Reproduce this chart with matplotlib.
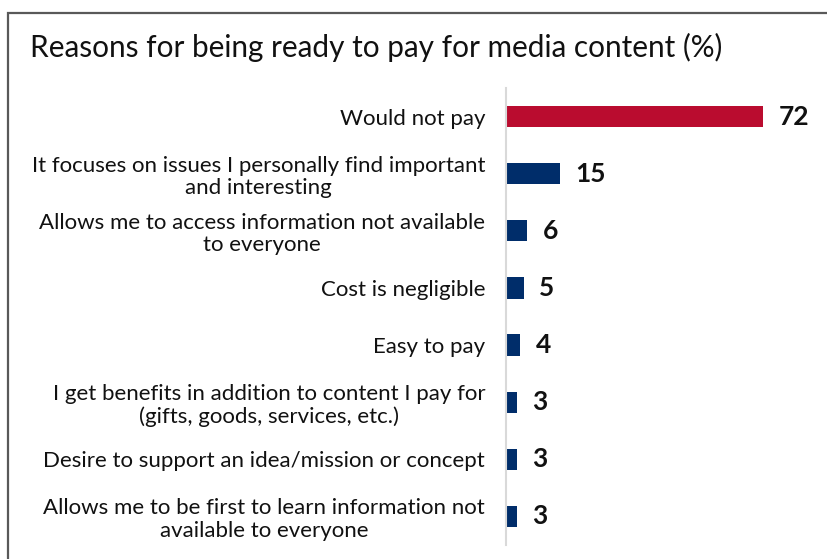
import matplotlib.pyplot as plt
from matplotlib.patches import Rectangle

plt.rcParams['font.family'] = ['Lato', 'DejaVu Sans']

title = 'Reasons for being ready to pay for media content (%)'
categories = [
    'Would not pay',
    'It focuses on issues I personally find important\nand interesting',
    'Allows me to access information not available\nto everyone',
    'Cost is negligible',
    'Easy to pay',
    'I get benefits in addition to content I pay for\n(gifts, goods, services, etc.)',
    'Desire to support an idea/mission or concept',
    'Allows me to be first to learn information not\navailable to everyone',
]
values = [72, 15, 6, 5, 4, 3, 3, 3]
colors = ['#BA0C2F'] + ['#002D6A'] * 7

W, H = 828, 559
fig = plt.figure(figsize=(W / 100, H / 100), dpi=100)

# outer frame
fig.patches.append(Rectangle((8 / W, -0.05), 1.0, (H - 13) / H + 0.05,
                             transform=fig.transFigure, fill=False,
                             edgecolor='#595959', linewidth=1.6))

fig.text(30 / W, 1 - 47 / H, title, fontsize=21.4, va='center', ha='left',
         color='#111111')

ax = fig.add_axes([506 / W, 14 / H, 300 / W, (545 - 88) / H])
pos = list(range(len(categories)))
ax.barh(pos, values, height=0.37, color=colors)
ax.set_ylim(len(categories) - 0.5, -0.5)
ax.set_xlim(0, 84)

ax.set_yticks(pos)
ax.set_yticklabels(categories, fontsize=16, multialignment='center',
                   color='#111111', linespacing=1.15)
ax.tick_params(axis='y', length=0, pad=15)
ax.set_xticks([])

for s in ['top', 'right', 'bottom']:
    ax.spines[s].set_visible(False)
ax.spines['left'].set_color('#D9D9D9')
ax.spines['left'].set_linewidth(1.5)

for p, v in zip(pos, values):
    ax.annotate(str(v), (v, p), xytext=(11, 0), textcoords='offset points',
                va='center', ha='left', fontsize=19, fontweight='bold',
                color='#111111')

fig.savefig('out.png', dpi=100)
